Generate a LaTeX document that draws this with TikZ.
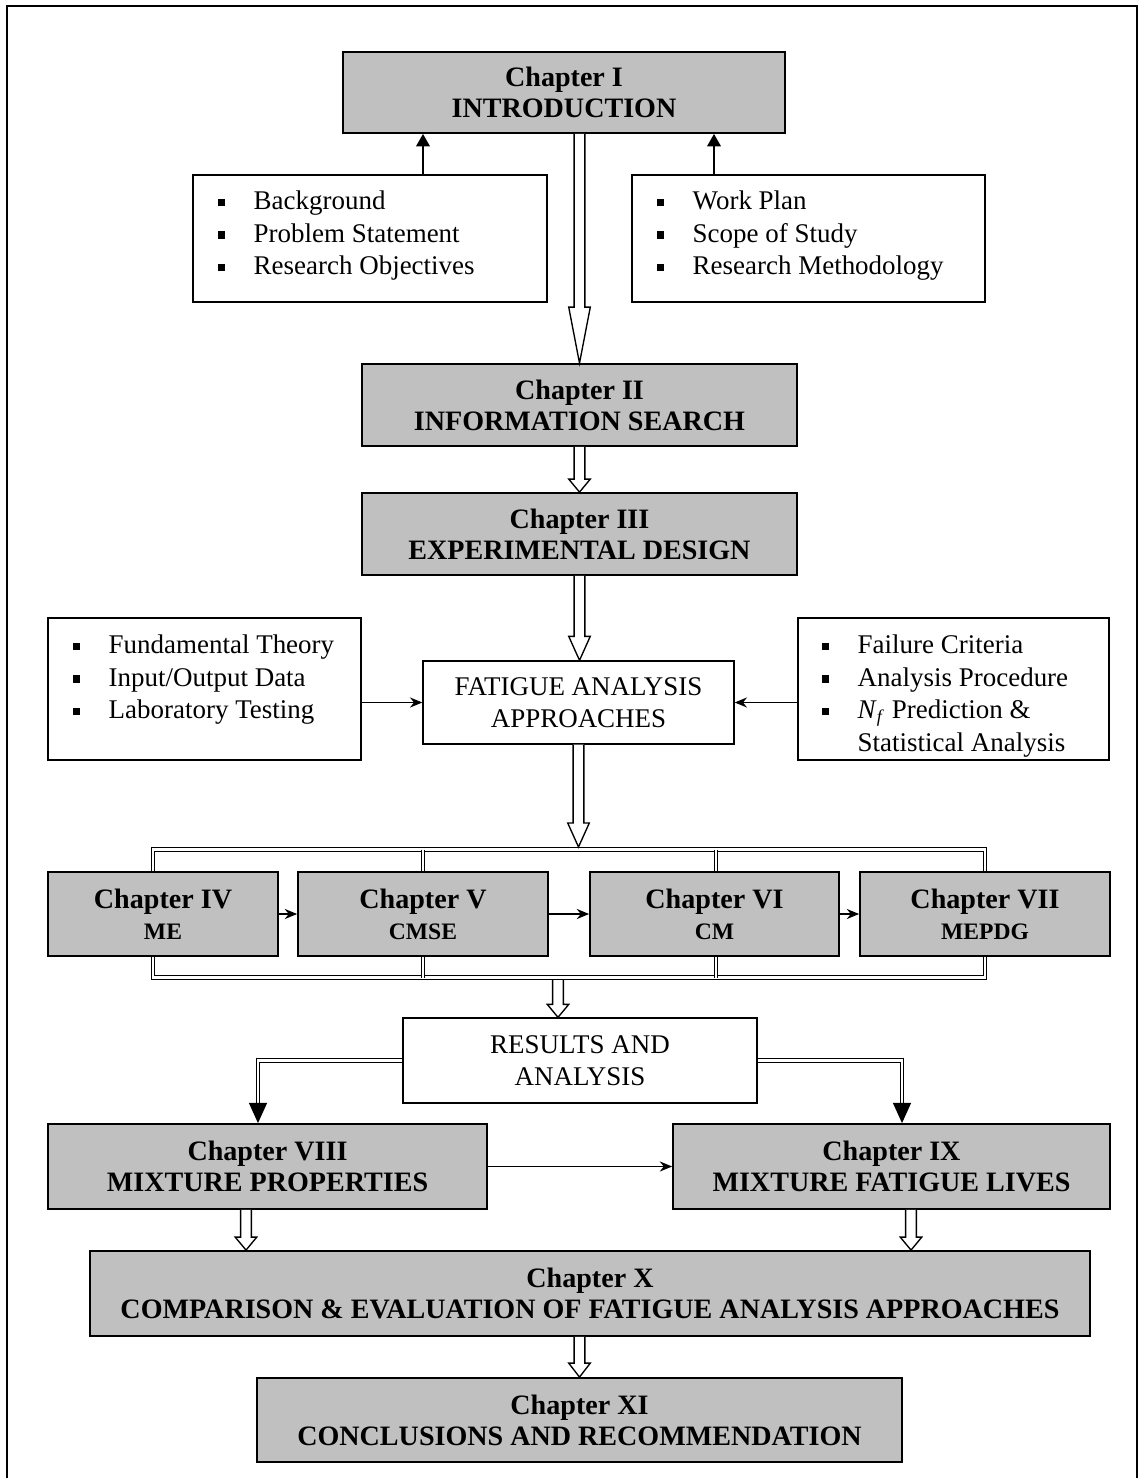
\documentclass[12pt,tikz,border=0pt]{standalone}
\usepackage{fontspec}
\setmainfont{Liberation Serif}
\usetikzlibrary{arrows.meta,calc,positioning}

\definecolor{chapgray}{RGB}{192,192,192}
\def\px{0.445pt}
\def\shaftw{2.4pt}
\def\headw{4.8pt}

% square bullet item
\newcommand{\itm}[1]{\makebox[16pt][l]{\rule[1.5pt]{3.3pt}{3.3pt}}#1}
% hollow block arrow pointing down: start, end, head length (px)
\newcommand{\hollowarrow}[3]{%
  \draw[hollow] let \p1=#1, \p2=#2 in
    (\x1-\shaftw,\y1) -- (\x1-\shaftw,\y2+#3*\px) -- (\x1-\headw,\y2+#3*\px)
    -- (\x1,\y2) -- (\x1+\headw,\y2+#3*\px) -- (\x1+\shaftw,\y2+#3*\px)
    -- (\x1+\shaftw,\y1);}

\begin{document}
\begin{tikzpicture}[
    x=0.445pt, y=-0.445pt,
    boxwh/.style 2 args={minimum width=#1*\px, minimum height=#2*\px},
    chap/.style={draw, line width=0.8pt, fill=chapgray, align=center, inner sep=0pt,
                 font=\fontsize{12.5}{13.8}\selectfont\bfseries},
    wbox/.style={draw, line width=0.6pt, fill=white, inner sep=0pt, align=center},
    listtxt/.style={align=left, inner sep=0pt, anchor=north west},
    hollow/.style={draw, fill=white, line width=0.6pt},
    arr/.style={-{Stealth[length=5.5pt,width=4.5pt]}, line width=0.6pt},
    uparr/.style={-{Triangle[length=5.5pt,width=6pt]}, line width=0.8pt},
    dbl/.style={double, double distance=0.9pt, line width=0.6pt},
    dblhead/.style={-{Triangle[length=9pt,width=8pt]}, line width=0.6pt},
]
\useasboundingbox (0,0) rectangle (1144,1478);

% Frame (open at the bottom)
\draw[line width=0.9pt] (7,1478) -- (7,6) -- (1137,6) -- (1137,1478);

% Chapter I and its two lists
\node[chap, boxwh={442}{81}] (ch1) at (564,92.5) {Chapter I\\INTRODUCTION};
\node[wbox, boxwh={354}{127}] (lb1) at (370,238.5) {};
\node[listtxt] (lb1txt) at ($(lb1.north west)+(25,16)$)
    {\itm{Background}\\ \itm{Problem Statement}\\ \itm{Research Objectives}};
\node[wbox, boxwh={353}{127}] (rb1) at (808.5,238.5) {};
\node[listtxt] (rb1txt) at ($(rb1.north west)+(25,16)$)
    {\itm{Work Plan}\\ \itm{Scope of Study}\\ \itm{Research Methodology}};
\draw[uparr] (lb1.north -| 423,0) -- (ch1.south -| 423,0);
\draw[uparr] (rb1.north -| 714,0) -- (ch1.south -| 714,0);

% Chapters II and III
\node[chap, boxwh={435}{82}] (ch2) at (579.5,405) {Chapter II\\INFORMATION SEARCH};
\node[chap, boxwh={435}{82}] (ch3) at (579.5,534) {Chapter III\\EXPERIMENTAL DESIGN};
\hollowarrow{(ch2.north |- ch1.south)}{(ch2.north)}{56}
\hollowarrow{(ch2.south)}{(ch3.north)}{13}

% Fatigue analysis approaches
\node[wbox, boxwh={311}{83}] (fat) at (578.5,702.5) {FATIGUE ANALYSIS\\APPROACHES};
\node[wbox, boxwh={313}{142}] (lb2) at (204.5,689) {};
\node[listtxt] (lb2txt) at ($(lb2.north west)+(25,17)$)
    {\itm{Fundamental Theory}\\ \itm{Input/Output Data}\\ \itm{Laboratory Testing}};
\node[wbox, boxwh={311}{142}] (rb2) at (953.5,689) {};
\node[listtxt] (rb2txt) at ($(rb2.north west)+(24,17)$)
    {\itm{Failure Criteria}\\ \itm{Analysis Procedure}\\
     \itm{\textit{N}\textsubscript{\textit{f}} Prediction \&}\\ \hspace*{16pt}Statistical Analysis};
\hollowarrow{(ch3.south)}{(fat.north)}{24}
\draw[arr] (lb2.east |- fat.west) -- (fat.west);
\draw[arr] (rb2.west |- fat.east) -- (fat.east);

% Chapters IV to VII
\node[chap, boxwh={230}{84}] (ch4) at (163,914) {Chapter IV\\{\fontsize{10.5}{12}\selectfont ME}};
\node[chap, boxwh={250}{84}] (ch5) at (423,914) {Chapter V\\{\fontsize{10.5}{12}\selectfont CMSE}};
\node[chap, boxwh={249}{84}] (ch6) at (714.5,914) {Chapter VI\\{\fontsize{10.5}{12}\selectfont CM}};
\node[chap, boxwh={250}{84}] (ch7) at (985,914) {Chapter VII\\{\fontsize{10.5}{12}\selectfont MEPDG}};
\draw[arr] (ch4.east) -- (ch5.west);
\draw[arr] (ch5.east) -- (ch6.west);
\draw[arr] (ch6.east) -- (ch7.west);

% Double-line brackets round IV to VII
\draw[dbl] (ch4.north -| 153,0) -- (153,849.5) -- (985,849.5) -- (ch7.north -| 985,0);
\draw[dbl] (ch4.south -| 153,0) -- (153,977.5) -- (985,977.5) -- (ch7.south -| 985,0);
\foreach \bx/\bn in {423/ch5, 716/ch6} {
    \draw[dbl] (\bx,849.5) -- (\bn.north -| \bx,0);
    \draw[dbl] (\bx,977.5) -- (\bn.south -| \bx,0);
}
\hollowarrow{(fat.south)}{(fat.south |- 0,847)}{24}

% Results and analysis
\node[wbox, boxwh={354}{85}] (res) at (580,1060.5) {RESULTS AND\\ANALYSIS};
\hollowarrow{(558,980)}{(res.north -| 558,0)}{13}

% Chapters VIII and IX
\node[chap, boxwh={439}{85}] (ch8) at (267.5,1166.5) {Chapter VIII\\MIXTURE PROPERTIES};
\node[chap, boxwh={437}{85}] (ch9) at (891.5,1166.5) {Chapter IX\\MIXTURE FATIGUE LIVES};
\coordinate (d8) at (258,1105);
\coordinate (d9) at (902,1105);
\draw[dbl] (res.west) -| (d8);
\draw[dblhead] (d8) -- (ch8.north -| d8);
\draw[dbl] (res.east) -| (d9);
\draw[dblhead] (d9) -- (ch9.north -| d9);
\draw[arr] (ch8.east) -- (ch9.west);

% Chapters X and XI
\node[chap, boxwh={1000}{85}] (ch10) at (590,1293.5)
    {Chapter X\\COMPARISON \& EVALUATION OF FATIGUE ANALYSIS APPROACHES};
\node[chap, boxwh={645}{84}] (ch11) at (579.5,1420) {Chapter XI\\CONCLUSIONS AND RECOMMENDATION};
\hollowarrow{(ch8.south -| 246,0)}{(ch10.north -| 246,0)}{13}
\hollowarrow{(ch9.south -| 911,0)}{(ch10.north -| 911,0)}{13}
\hollowarrow{(ch11.north |- ch10.south)}{(ch11.north)}{14}

\end{tikzpicture}
\end{document}
